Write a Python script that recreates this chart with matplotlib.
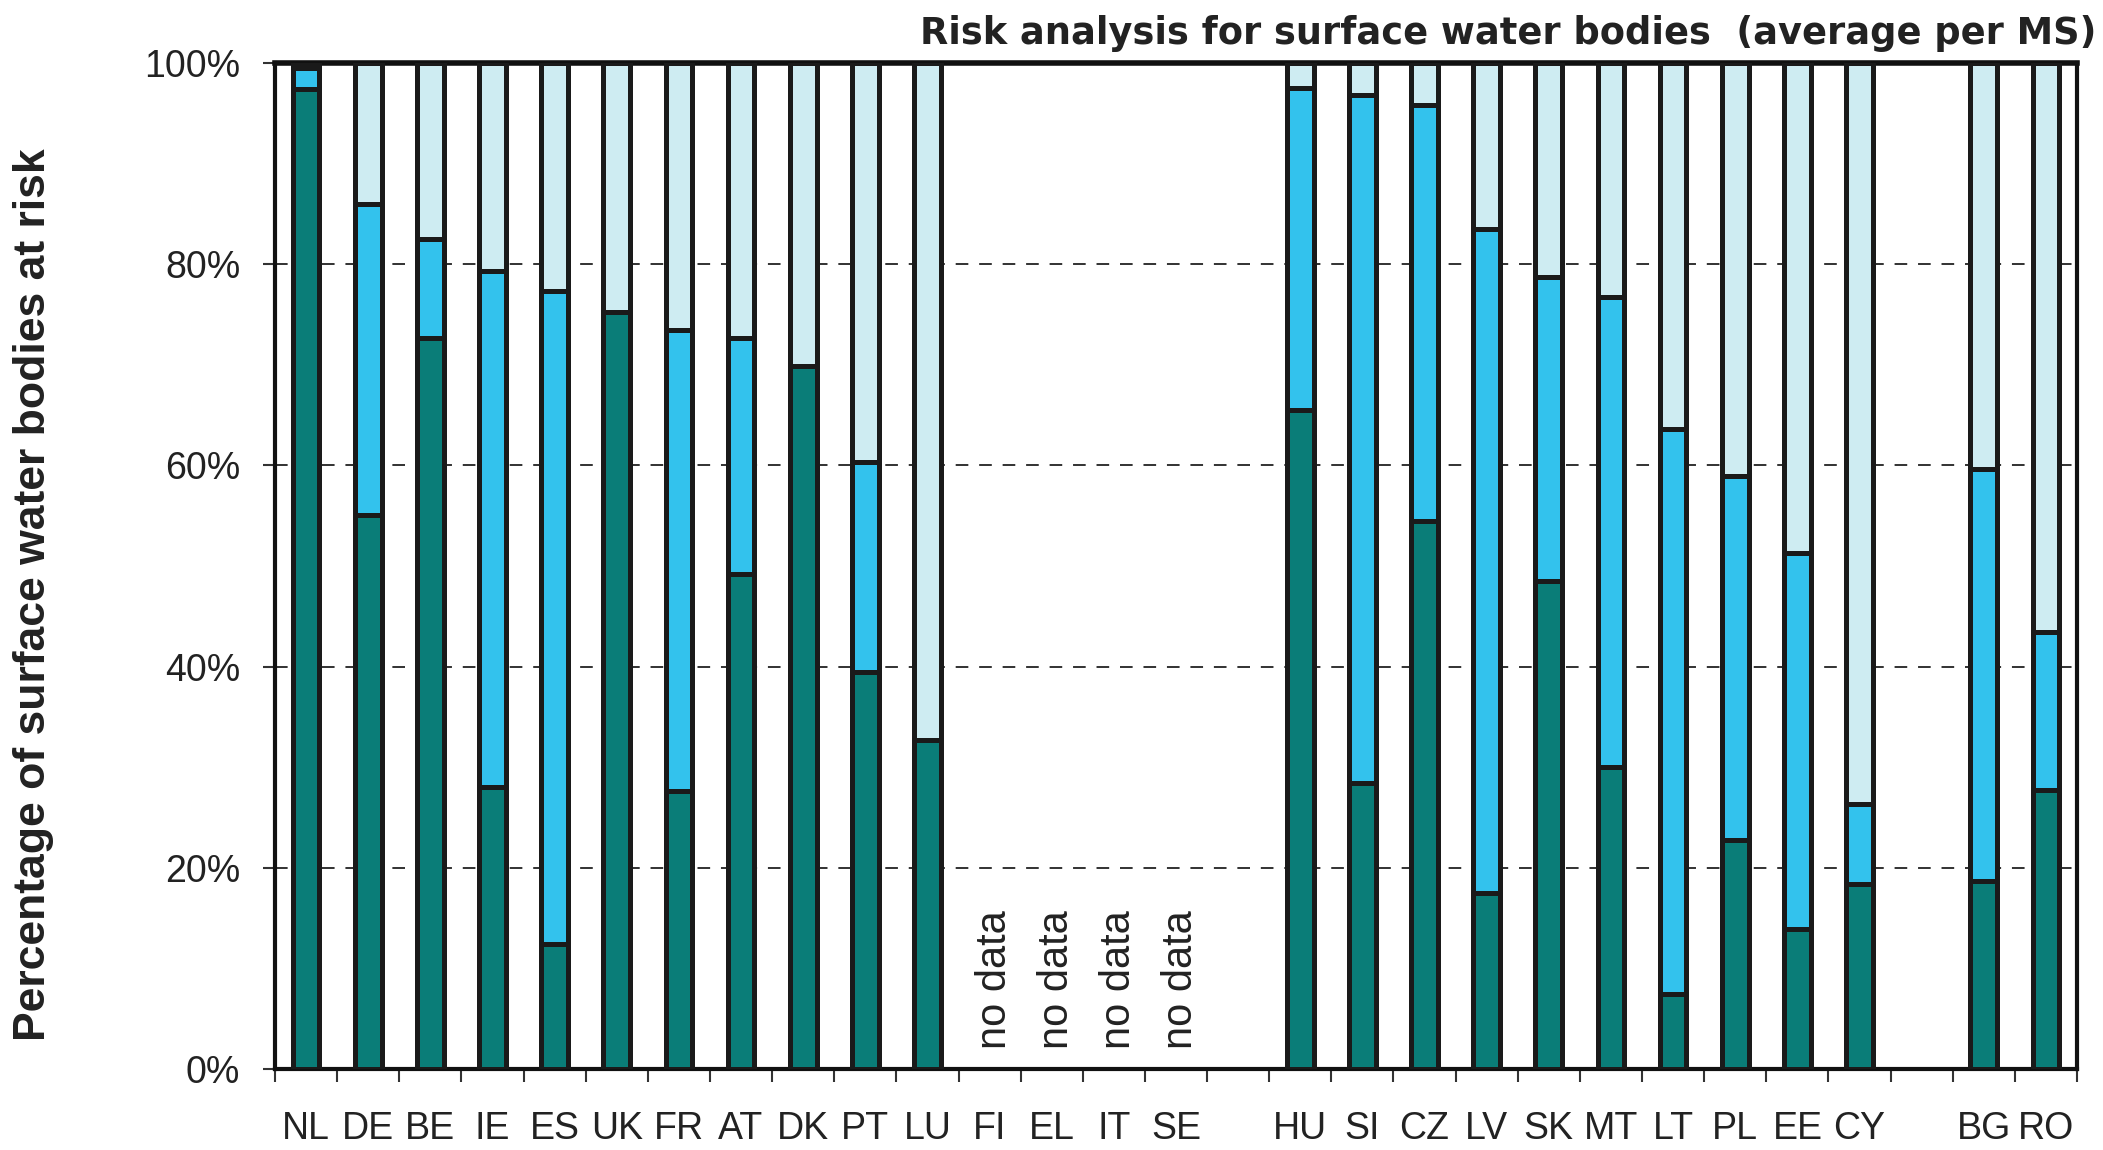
import numpy as np
import matplotlib
matplotlib.use("Agg")
import matplotlib.pyplot as plt
from matplotlib.ticker import FixedLocator, FuncFormatter

# member states, '' = empty slot between groups
countries = ['NL', 'DE', 'BE', 'IE', 'ES', 'UK', 'FR', 'AT', 'DK', 'PT', 'LU',
             'FI', 'EL', 'IT', 'SE', '',
             'HU', 'SI', 'CZ', 'LV', 'SK', 'MT', 'LT', 'PL', 'EE', 'CY', '',
             'BG', 'RO']
no_data = ['FI', 'EL', 'IT', 'SE']

nan = np.nan
# % of water bodies per class (bottom, middle, top segment)
at_risk = [97.4, 55.1, 72.7, 28.0, 12.4, 75.2, 27.6, 49.2, 69.9, 39.5, 32.7,
           nan, nan, nan, nan, nan,
           65.5, 28.4, 54.5, 17.5, 48.5, 30.0, 7.5, 22.8, 13.9, 18.4, nan,
           18.7, 27.7]
possibly_at_risk = [2.1, 30.9, 9.8, 51.3, 64.9, 0.0, 45.9, 23.5, 0.0, 20.8, 0.0,
                    nan, nan, nan, nan, nan,
                    32.0, 68.4, 41.3, 66.0, 30.2, 46.7, 56.1, 36.1, 37.4, 7.9, nan,
                    40.9, 15.7]
not_at_risk = [0.5, 14.0, 17.5, 20.7, 22.7, 24.8, 26.5, 27.3, 30.1, 39.7, 67.3,
               nan, nan, nan, nan, nan,
               2.5, 3.2, 4.2, 16.5, 21.3, 23.3, 36.4, 41.1, 48.7, 73.7, nan,
               40.4, 56.6]

c_dark = '#0a7d78'
c_mid = '#33c2ed'
c_light = '#ceecf2'
edge = '#1a1a1a'

fig = plt.figure(figsize=(21.03, 11.5), dpi=100)
ax = fig.add_axes([275 / 2103, 1 - 1069 / 1150, (2077 - 275) / 2103, (1069 - 63) / 1150])

x = np.arange(len(countries))
a = np.array(at_risk)
b = np.array(possibly_at_risk)
c = np.array(not_at_risk)
ok = ~np.isnan(a)

w = 0.43
lw = 3.6
ax.bar(x[ok], a[ok], w, color=c_dark, edgecolor=edge, linewidth=lw, zorder=3)
ax.bar(x[ok], b[ok], w, bottom=a[ok], color=c_mid, edgecolor=edge, linewidth=lw, zorder=3)
ax.bar(x[ok], c[ok], w, bottom=a[ok] + b[ok], color=c_light, edgecolor=edge, linewidth=lw, zorder=3)

for i, name in enumerate(countries):
    if name in no_data:
        ax.text(x[i] + 0.08, 2, 'no data', rotation=90, ha='center', va='bottom',
                fontsize=30, family='Liberation Sans', color='#222222')

ax.set_xlim(-0.5, len(countries) - 0.5)
ax.set_ylim(0, 100)

ax.set_yticks([0, 20, 40, 60, 80, 100])
ax.yaxis.set_major_formatter(FuncFormatter(lambda v, p: '%d%%' % v))
ax.yaxis.grid(True, color='#222222', linestyle=(0, (7, 6)), linewidth=1.3)
ax.set_axisbelow(True)

ax.set_xticks(x)
ax.set_xticklabels(countries)
ax.xaxis.set_minor_locator(FixedLocator(np.arange(len(countries) + 1) - 0.5))
ax.tick_params(axis='x', which='major', length=0, pad=30)
ax.tick_params(axis='x', which='minor', length=9, width=1.5, color='#333333')
ax.tick_params(axis='y', length=9, width=1.5, pad=16, color='#333333')

for lab in ax.get_xticklabels() + ax.get_yticklabels():
    lab.set_family('Liberation Sans')
    lab.set_fontsize(27)
    lab.set_color('#222222')

for s in ax.spines.values():
    s.set_linewidth(3)
    s.set_color('#111111')
ax.spines['top'].set_linewidth(4)

fig.text(34 / 2103, 1 - 595 / 1150, 'Percentage of surface water bodies at risk',
         rotation=90, ha='center', va='center', fontsize=32, fontweight='bold',
         family='Liberation Sans', color='#222222')
fig.text(2096 / 2103, 1 - 34 / 1150, 'Risk analysis for surface water bodies  (average per MS)',
         ha='right', va='center', fontsize=26.5, fontweight='bold',
         family='DejaVu Sans', color='#222222')

fig.savefig('out.png', dpi=100)
